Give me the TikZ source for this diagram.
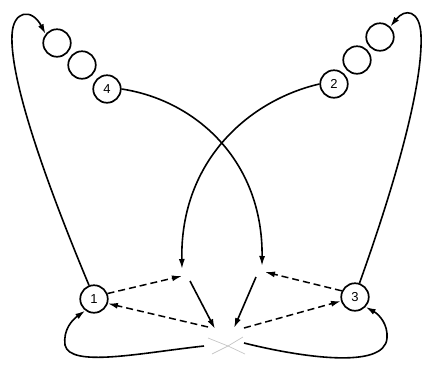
\documentclass[tikz,border=0pt]{standalone}
\usepackage{fontspec}
\setsansfont{Liberation Sans}
\usetikzlibrary{arrows.meta}
\begin{document}
\begin{tikzpicture}[x=1pt,y=-1pt,
  ball/.style={circle,draw,line width=1.7pt,minimum size=27.5pt,inner sep=0pt,font=\sffamily\fontsize{13}{13}\selectfont},
  conn/.style={line width=1.6pt},
  tip/.style={-{Latex[length=10pt,width=6pt]}},
  dashconn/.style={line width=1.5pt,dash pattern=on 7pt off 4pt},
  faint/.style={line width=0.7pt,draw=gray!45}]
\useasboundingbox (0,0) rectangle (424,365);
% circles
\node[ball] (a1) at (57,43) {};
\node[ball] (a2) at (82,65) {};
\node[ball] (n4) at (107,89) {4};
\node[ball] (b1) at (380,37) {};
\node[ball] (b2) at (357,60) {};
\node[ball] (n2) at (334,84) {2};
\node[ball] (n1) at (94,299) {1};
\node[ball] (n3) at (355,297) {3};
% free points
\coordinate (tA) at (262,266);
\coordinate (tB) at (182,269);
\coordinate (sL1) at (190,281);
\coordinate (sL2) at (215,329);
\coordinate (sR1) at (256,277);
\coordinate (sR2) at (234,328);
\coordinate (d1) at (182,276);
\coordinate (d2) at (208,327);
\coordinate (d3) at (265,272);
\coordinate (d4) at (244,328);
\coordinate (l1) at (204,346);
\coordinate (l2) at (244,343);
\coordinate (x) at (228,346);
% big side arrows
\draw[conn,tip] (n1.110) .. controls (45,180) and (10,80) .. (12,35)
  .. controls (13,10) and (32,8) .. (a1.142);
\draw[conn,tip] (n3.72) .. controls (400,170) and (423,80) .. (421,35)
  .. controls (420,10) and (405,8) .. (b1.45);
% crossing curves
\draw[conn,tip] (n4.east) .. controls (195,100) and (263,160) .. (tA);
\draw[conn,tip] (n2.west) .. controls (250,100) and (180,160) .. (tB);
% short solid arrows
\draw[conn,tip] (sL1) -- (sL2);
\draw[conn,tip] (sR1) -- (sR2);
% dashed arrows
\draw[dashconn,tip] (n1.22) -- (d1);
\draw[dashconn,tip] (d2) -- (n1.-18);
\draw[dashconn,tip] (n3.155) -- (d3);
\draw[dashconn,tip] (d4) -- (n3.196);
% bottom loops
\draw[conn,tip] (l1) .. controls (140,353) and (70,368) .. (65,345)
  .. controls (63,330) and (72,320) .. (n1.233);
\draw[conn,tip] (l2) .. controls (300,357) and (385,370) .. (387,338)
  .. controls (388,325) and (380,315) .. (n3.-43);
% faint cross
\draw[faint] (208,338) -- (x) -- (245,354);
\draw[faint] (243,337) -- (x) -- (212,354);
\end{tikzpicture}
\end{document}
